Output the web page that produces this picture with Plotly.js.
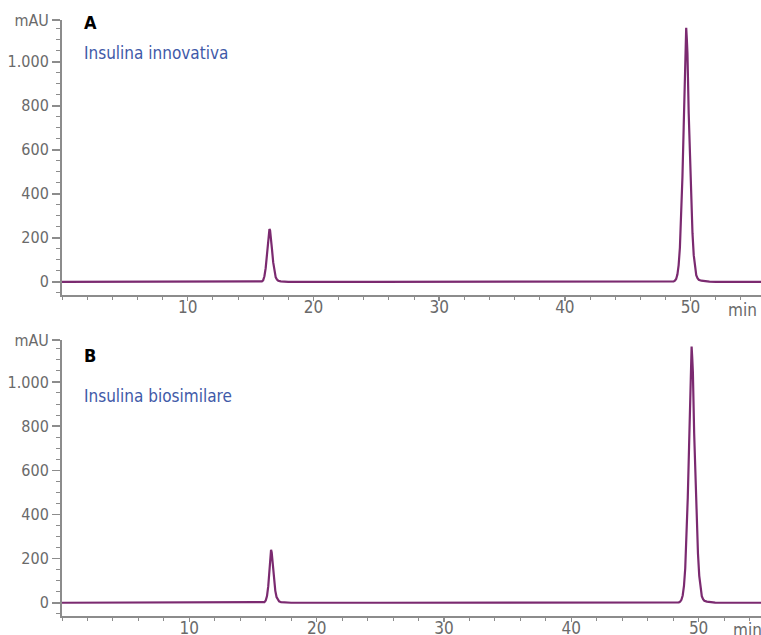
<!DOCTYPE html>
<html>
<head>
<meta charset="utf-8">
<script src="https://cdn.plot.ly/plotly-3.0.1.min.js"></script>
<style>
html,body{margin:0;padding:0;background:#fff;}
#chart{width:761px;height:635px;}
</style>
</head>
<body>
<div id="chart"></div>
<script>
// Panel A – Insulina innovativa (time in min, signal in mAU)
const timeA = [0, 5, 10, 15, 15.6, 15.9, 16.0, 16.1, 16.2, 16.3, 16.4, 16.45, 16.5, 16.55, 16.6, 16.7, 16.8, 16.9, 17.0, 17.1, 17.2, 17.4, 17.7, 18.0, 25, 30, 35, 40, 45, 48.5,
  48.65, 48.75, 48.85, 48.95, 49.05, 49.15, 49.25, 49.35, 49.45, 49.55, 49.6, 49.65, 49.7, 49.75, 49.85, 49.95, 50.05, 50.15, 50.25, 50.35, 50.45, 50.55, 50.65, 50.85, 51.1, 51.5, 52.0, 55.6];
const signalA = [0, 0, 0, 0, 0, 2, 7, 25, 62, 122, 190, 222, 240, 234, 212, 150, 88, 44, 20, 10, 5, 2, 0.5, 0, 0, 0, 0, 0, 0, 0,
  2, 5, 13, 33, 76, 156, 288, 475, 701, 925, 1093, 1155, 1103, 1040, 765, 554, 366, 221, 121, 61, 30, 16, 9, 5, 3, 1, 0, 0];

// Panel B – Insulina biosimilare
const timeB = [0, 5, 10, 15, 15.5, 15.8, 15.9, 16.0, 16.1, 16.2, 16.3, 16.37, 16.42, 16.47, 16.55, 16.65, 16.75, 16.85, 16.95, 17.05, 17.2, 17.4, 17.7, 18.0, 25, 30, 35, 40, 45, 48.3,
  48.45, 48.55, 48.65, 48.75, 48.85, 48.95, 49.05, 49.15, 49.25, 49.35, 49.4, 49.45, 49.5, 49.55, 49.65, 49.75, 49.85, 49.95, 50.05, 50.15, 50.25, 50.35, 50.45, 50.65, 50.9, 51.3, 51.8, 54.9];
const signalB = [0, 0, 0, 0, 0, 1, 3, 10, 30, 75, 145, 205, 240, 228, 175, 105, 55, 26, 12, 6, 3, 1.5, 0.5, 0, 0, 0, 0, 0, 0, 0,
  2, 5, 13, 33, 76, 156, 290, 478, 705, 930, 1098, 1160, 1108, 1045, 768, 556, 368, 222, 122, 62, 30, 16, 9, 5, 3, 1, 0, 0];

const yTickVals = [0, 200, 400, 600, 800, 1000, 1190];
const yTickText = ['0', '200', '400', '600', '800', '1.000', 'mAU'];
const xTickVals = [10, 20, 30, 40, 50];
const xTickText = ['10', '20', '30', '40', '50'];

const labels = ['A', 'B'];
const samples = ['Insulina innovativa', 'Insulina biosimilare'];

const FONT = "'Liberation Sans Narrow', 'DejaVu Sans Condensed', 'Roboto', sans-serif";
const AX = '#8c8c8c';
const TXT = '#6a6a6a';
const LINE = '#7b2a70';

const traces = [
  {x: timeA, y: signalA, xaxis: 'x', yaxis: 'y', type: 'scatter', mode: 'lines',
   line: {color: LINE, width: 2.2}, hoverinfo: 'skip'},
  {x: timeB, y: signalB, xaxis: 'x2', yaxis: 'y2', type: 'scatter', mode: 'lines',
   line: {color: LINE, width: 2.2}, hoverinfo: 'skip'}
];

function xax(range, anchor) {
  return {
    range: range, anchor: anchor, domain: [0, 1],
    showline: true, linecolor: AX, linewidth: 2,
    showgrid: false, zeroline: false,
    tickmode: 'array', tickvals: xTickVals, ticktext: xTickText,
    ticks: 'outside', ticklen: 4, tickwidth: 1.5, tickcolor: AX,
    ticklabelstandoff: -8,
    minor: {tickmode: 'linear', tick0: 0, dtick: 2, ticks: 'outside', ticklen: 3, tickwidth: 1, tickcolor: AX, showgrid: false},
    tickfont: {family: FONT, size: 17, color: TXT}
  };
}
function yax(domain, anchor) {
  return {
    range: [-60, 1190], domain: domain, anchor: anchor,
    showline: true, linecolor: AX, linewidth: 2,
    showgrid: false, zeroline: false,
    tickmode: 'array', tickvals: yTickVals, ticktext: yTickText,
    ticks: 'outside', ticklen: 8, tickwidth: 1.5, tickcolor: AX,
    minor: {tickmode: 'linear', tick0: 0, dtick: 50, ticks: 'outside', ticklen: 4, tickwidth: 1, tickcolor: AX, showgrid: false},
    tickfont: {family: FONT, size: 16, color: TXT}
  };
}

const layout = {
  width: 761, height: 635,
  margin: {l: 62, r: 0, t: 20, b: 19},
  paper_bgcolor: '#fff', plot_bgcolor: '#fff',
  showlegend: false,
  xaxis: xax([0, 55.6], 'y'),
  yaxis: yax([0.5386, 1], 'x'),
  xaxis2: xax([0, 54.9], 'y2'),
  yaxis2: yax([0, 0.4631], 'x2'),
  annotations: [
    {text: '<b>' + labels[0] + '</b>', xref: 'paper', yref: 'paper', x: 0.029, y: 0.995, xanchor: 'left', yanchor: 'middle', showarrow: false, font: {family: FONT, size: 18, color: '#000'}},
    {text: samples[0], xref: 'paper', yref: 'paper', x: 0.029, y: 0.9446, xanchor: 'left', yanchor: 'middle', showarrow: false, font: {family: FONT, size: 17, color: '#3f5aa8'}},
    {text: '<b>' + labels[1] + '</b>', xref: 'paper', yref: 'paper', x: 0.029, y: 0.4379, xanchor: 'left', yanchor: 'middle', showarrow: false, font: {family: FONT, size: 18, color: '#000'}},
    {text: samples[1], xref: 'paper', yref: 'paper', x: 0.029, y: 0.369, xanchor: 'left', yanchor: 'middle', showarrow: false, font: {family: FONT, size: 17, color: '#3f5aa8'}},
    {text: 'min', xref: 'paper', yref: 'paper', x: 0.973, y: 0.5134, xanchor: 'center', yanchor: 'middle', showarrow: false, font: {family: FONT, size: 17, color: TXT}},
    {text: 'min', xref: 'paper', yref: 'paper', x: 0.981, y: -0.0235, xanchor: 'center', yanchor: 'middle', showarrow: false, font: {family: FONT, size: 17, color: TXT}}
  ]
};

Plotly.newPlot('chart', traces, layout, {staticPlot: true, displayModeBar: false});
</script>
</body>
</html>
